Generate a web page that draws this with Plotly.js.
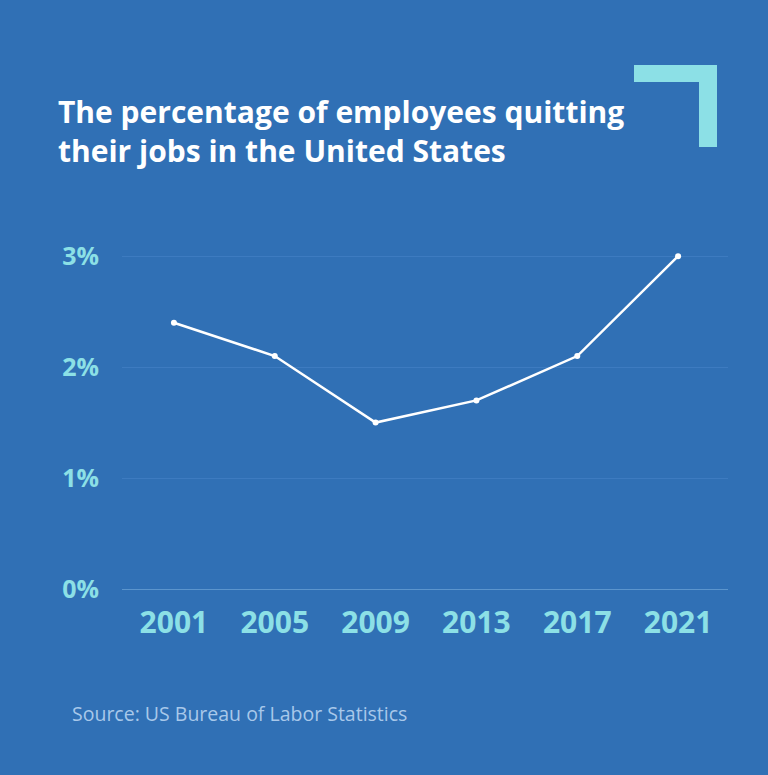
<!DOCTYPE html>
<html>
<head>
<meta charset="utf-8">
<script src="https://cdn.plot.ly/plotly-3.0.1.min.js"></script>
<style>html,body{margin:0;padding:0;background:#3070b5;}#chart{width:768px;height:775px;}</style>
</head>
<body>
<div id="chart"></div>
<script>
const years = [2001, 2005, 2009, 2013, 2017, 2021];
const quitRate = [2.4, 2.1, 1.5, 1.7, 2.1, 3.0];
const yTickVals = [0, 1, 2, 3];
const yTickText = ['0%', '1%', '2%', '3%'];
const titleText = 'The percentage of employees quitting<br>their jobs in the United States';
const sourceText = 'Source: US Bureau of Labor Statistics';

const bg = '#3070b5';
const cyan = '#8ce0e6';
const fam = '"Open Sans", sans-serif';

const trace = {
  x: years,
  y: quitRate,
  type: 'scatter',
  mode: 'lines+markers',
  line: {color: '#ffffff', width: 2.5},
  marker: {color: '#ffffff', size: 6},
  cliponaxis: false,
  hoverinfo: 'skip'
};

const layout = {
  width: 768,
  height: 775,
  paper_bgcolor: bg,
  plot_bgcolor: bg,
  showlegend: false,
  margin: {l: 122, r: 40, t: 234, b: 186},
  title: {
    text: titleText,
    font: {family: fam, size: 30, color: '#ffffff', weight: 700},
    xref: 'container', yref: 'container',
    x: 58/768, xanchor: 'left',
    y: 1 - 123/775, yanchor: 'top'
  },
  xaxis: {
    range: [1998.94, 2022.98],
    tickvals: years,
    ticktext: years.map(String),
    showgrid: false,
    zeroline: false,
    showline: false,
    ticks: 'outside', ticklen: 7, tickcolor: 'rgba(0,0,0,0)',
    tickfont: {family: fam, size: 30, color: cyan, weight: 700},
    fixedrange: true
  },
  yaxis: {
    range: [0, 3.2],
    tickvals: yTickVals,
    ticktext: yTickText,
    showgrid: true,
    gridcolor: '#3d7bc0',
    gridwidth: 1,
    zeroline: true,
    zerolinecolor: '#5b95cd',
    zerolinewidth: 1,
    showline: false,
    ticks: 'outside', ticklen: 17, tickcolor: 'rgba(0,0,0,0)',
    tickfont: {family: fam, size: 25, color: cyan, weight: 700},
    fixedrange: true
  },
  shapes: [
    {type: 'rect', xref: 'paper', yref: 'paper',
     x0: (634-122)/606, x1: (717-122)/606, y0: (589-82)/355, y1: (589-65)/355,
     fillcolor: cyan, line: {width: 0}, layer: 'above'},
    {type: 'rect', xref: 'paper', yref: 'paper',
     x0: (699-122)/606, x1: (717-122)/606, y0: (589-147)/355, y1: (589-65)/355,
     fillcolor: cyan, line: {width: 0}, layer: 'above'}
  ],
  annotations: [
    {text: sourceText, xref: 'paper', yref: 'paper',
     x: (70-122)/606, y: (589-713)/355, xanchor: 'left', yanchor: 'middle',
     showarrow: false,
     font: {family: fam, size: 19.5, color: '#a8c8ea'}}
  ]
};

Plotly.newPlot('chart', [trace], layout, {displayModeBar: false, staticPlot: true});
</script>
</body>
</html>
